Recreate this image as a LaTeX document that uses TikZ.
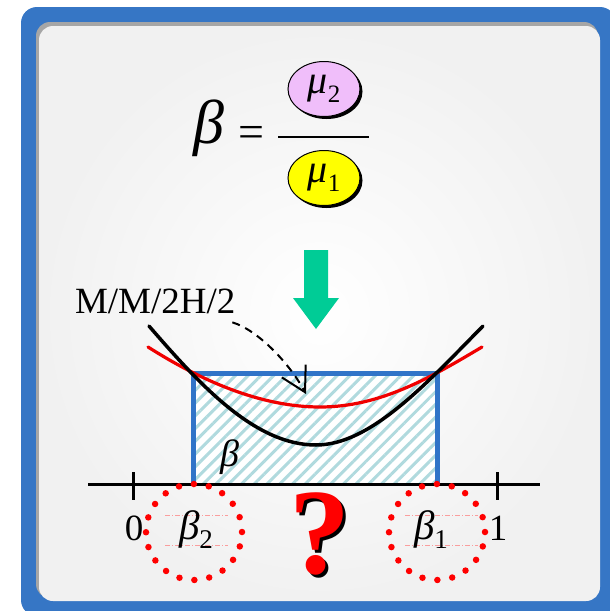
\documentclass[tikz,border=0pt]{standalone}
\usepackage{fontspec}
\setmainfont{Liberation Serif}
\usetikzlibrary{patterns.meta,arrows.meta,shapes.geometric,shadows}
\definecolor{frameblue}{RGB}{54,118,197}
\definecolor{rectblue}{RGB}{48,116,200}
\definecolor{hatchc}{RGB}{176,218,222}
\definecolor{arrowgreen}{RGB}{0,204,150}
\definecolor{pinkc}{RGB}{240,190,250}
\definecolor{yelc}{RGB}{255,255,0}
\definecolor{curvered}{RGB}{240,0,0}
\newcommand{\fs}[1]{\fontsize{#1}{#1}\selectfont}
\begin{document}
\begin{tikzpicture}[x=1pt,y=-1pt,
  txt/.style={inner sep=1pt,outer sep=0pt},
  muball/.style={ellipse, minimum width=72pt, minimum height=55pt, draw=black, line width=1pt,
     inner sep=0pt, drop shadow={shadow xshift=2.5pt, shadow yshift=-2.5pt, fill=black, opacity=1}},
  dotring/.style={circle, minimum size=96pt, inner sep=0pt, draw=red, line width=6.5pt,
     line cap=round, dash pattern=on 0pt off 15.1pt},
  faint/.style={red!60, line width=0.6pt, opacity=0.6, dash pattern=on 5pt off 2pt on 1pt off 2pt},
  curve/.style={line width=3.5pt, line cap=round}
]
\useasboundingbox (0,0) rectangle (610,611);
% frame
\begin{scope}
\clip (0,0) rectangle (610,611);
\fill[frameblue, rounded corners=16pt] (21,7) rectangle (616,616);
\end{scope}
\fill[gray!70, rounded corners=14pt] (36,22) rectangle (598,598);
\shade[rounded corners=14pt, inner color=white, outer color=gray!11] (39,26) rectangle (600,601);

% formula
\node[txt, font=\fs{62}\itshape] (beta) at (209,128) {β};
\node[txt, font=\fs{46}] (eq) at (251,137) {=};
\draw[line width=2.5pt] (278,137) -- (369,137);
\node[muball, fill=pinkc] (mu2) at (324,89) {\fs{40}\textit{μ}\raisebox{-9pt}{\fs{25}2}};
\node[muball, fill=yelc] (mu1) at (324,178) {\fs{40}\textit{μ}\raisebox{-9pt}{\fs{25}1}};

% green arrow
\fill[arrowgreen] (304,250) -- (328,250) -- (328,298) -- (339,298) -- (316,329) -- (293,298) -- (304,298) -- cycle;

% hatched rectangle
\fill[white] (193,373) rectangle (437,484);
\fill[pattern={Lines[angle=45,distance=9pt,line width=3pt]}, pattern color=hatchc] (193,373) rectangle (437,484);
\draw[rectblue, line width=5pt] (193,484) -- (193,373) -- (437,373) -- (437,484);

% curves
\draw[curve, curvered, line width=3.2pt] (148,347) .. controls (200,380) and (260,407) .. (320,407)
   .. controls (380,407) and (430,378) .. (482,347);
\draw[curve, black] (149,326) .. controls (200,385) and (255,445) .. (316,445)
   .. controls (370,445) and (425,385) .. (483,326);

% label and dashed arrow
\node[txt, font=\fs{37}, anchor=base west] (mm) at (74,313) {M/M/2H/2};
\coordinate (tip) at (306,394);
\draw[line width=2pt, dash pattern=on 8pt off 6pt, -{Straight Barb[length=24pt,width=27pt,line width=2pt]}]
  ([shift={(-4,8)}]mm.south east) .. controls (258,330) and (290,364) .. (tip);

% axis
\draw[line width=3pt] (88,484) -- (540,484);
\draw[line width=3pt] (133,472) -- (133,500);
\draw[line width=3pt] (497,472) -- (497,500);
\node[txt, font=\fs{37}] (zero) at (134,528) {0};
\node[txt, font=\fs{37}] (one) at (498,528) {1};

% beta in rectangle
\node[txt, font=\fs{38}\itshape] (betain) at (230,457) {β};

% dotted rings
\node[dotring] (ring2) at (194,532) {};
\node[dotring] (ring1) at (437,532) {};
\draw[faint] (165,515) -- (228,515);
\draw[faint] (165,545) -- (228,545);
\draw[faint] (405,515) -- (478,515);
\draw[faint] (405,545) -- (478,545);
\node[txt, font=\fs{41}, anchor=base] (b2) at (196,539) {\textit{β}\raisebox{-9pt}{\fs{27}2}};
\node[txt, font=\fs{41}, anchor=base] (b1) at (431,539) {\textit{β}\raisebox{-9pt}{\fs{27}1}};

% question mark with shadow
\node[txt, font=\fs{122}\bfseries, text=red] (q) at (320,535)
  {\rlap{\kern3pt\raisebox{-3pt}{\color{black}?}}?};
\end{tikzpicture}
\end{document}
